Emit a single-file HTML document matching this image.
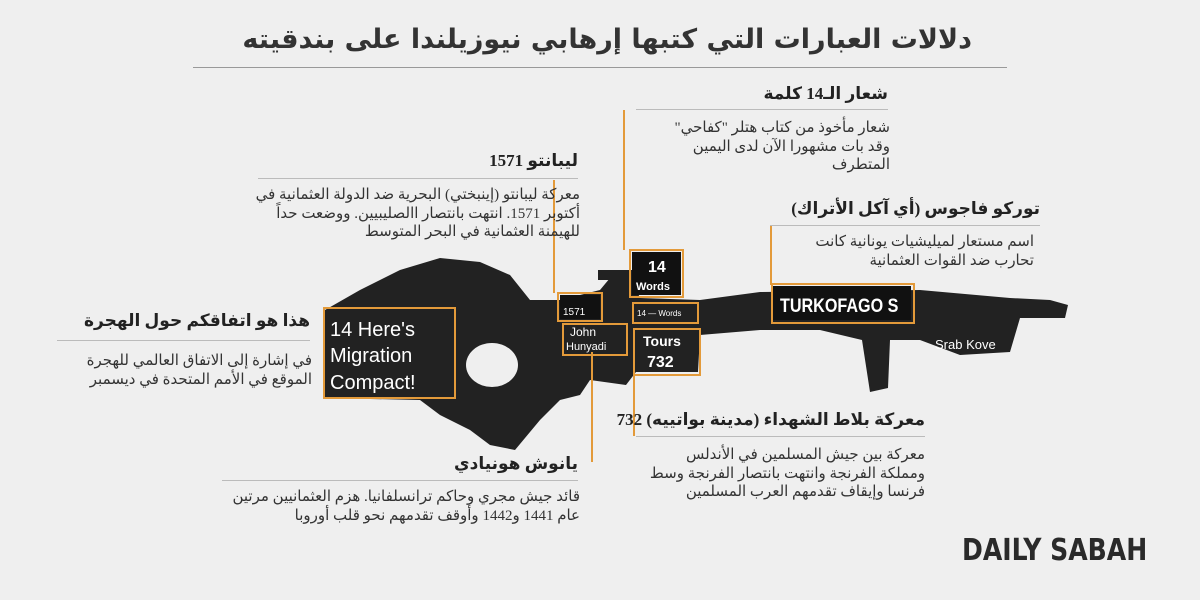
<!DOCTYPE html>
<html><head><meta charset="utf-8"><style>
body{margin:0;width:1200px;height:600px;background:#efefef;position:relative;overflow:hidden;font-family:"Liberation Serif","Noto Serif CJK SC","DejaVu Sans",serif;color:#333}
.t{position:absolute;direction:rtl;text-align:right;white-space:nowrap}
.h{font-weight:bold;font-size:17px;color:#222}
.b{font-size:15px;line-height:18.5px;color:#333}
.ln{position:absolute;height:1px;background:#bbb}
.ov{position:absolute;width:2px;background:#e39a3a}
.bx{position:absolute;border:2px solid #e39a3a}
</style></head><body>
<div class="t" style="left:200px;width:772px;top:24px;font-size:27px;font-weight:bold;font-family:'DejaVu Sans',sans-serif;color:#333">دلالات العبارات التي كتبها إرهابي نيوزيلندا على بندقيته</div>
<div class="ln" style="left:193px;width:814px;top:67px;background:#999"></div>

<svg style="position:absolute;left:0;top:0" width="1200" height="600">
<g fill="#222">
<path d="M325 310 L360 290 L400 270 L440 258 L480 262 L510 275 L530 300 L560 300 L600 290 L610 278 L630 275 L640 298 L700 300 L760 292 L920 290 L1010 298 L1050 300 L1068 305 L1065 318 L1020 318 L1015 335 L1010 352 L960 355 L920 340 L890 340 L888 388 L870 392 L862 340 L820 330 L760 330 L700 335 L698 372 L636 372 L626 385 L590 380 L580 395 L560 400 L540 420 L515 450 L490 445 L470 430 L440 415 L420 400 L325 398 Z"/>
<rect x="598" y="270" width="34" height="10"/>
</g>
<ellipse cx="492" cy="365" rx="26" ry="22" fill="#efefef"/>
<rect x="560" y="295" width="40" height="24" fill="#111"/>
<rect x="632" y="252" width="49" height="43" fill="#111"/>
<rect x="773" y="286" width="138" height="34" fill="#111"/>
<g fill="#fff" font-family="Liberation Sans,sans-serif">
<text x="330" y="336" font-size="20">14 Here's</text>
<text x="330" y="362" font-size="20">Migration</text>
<text x="330" y="389" font-size="20">Compact!</text>
<text x="648" y="272" font-size="16" font-weight="bold">14</text>
<text x="636" y="290" font-size="11" font-weight="bold">Words</text>
<text x="563" y="315" font-size="10">1571</text>
<text x="570" y="336" font-size="12">John</text>
<text x="566" y="350" font-size="11">Hunyadi</text>
<text x="643" y="346" font-size="14" font-weight="bold">Tours</text>
<text x="647" y="367" font-size="16" font-weight="bold">732</text>
<text x="637" y="316" font-size="8">14 — Words</text>
<text x="780" y="312" font-size="19" font-weight="bold" font-family="Liberation Sans Narrow,Liberation Sans,sans-serif" transform="translate(780 0) scale(0.85 1) translate(-780 0)">TURKOFAGO S</text>
<text x="935" y="349" font-size="13">Srab Kove</text>
</g>
</svg>

<div class="bx" style="left:323px;top:307px;width:129px;height:88px"></div>
<div class="bx" style="left:557px;top:292px;width:42px;height:26px"></div>
<div class="bx" style="left:629px;top:249px;width:51px;height:45px"></div>
<div class="bx" style="left:632px;top:302px;width:63px;height:18px"></div>
<div class="bx" style="left:562px;top:323px;width:62px;height:29px"></div>
<div class="bx" style="left:633px;top:328px;width:64px;height:44px"></div>
<div class="bx" style="left:771px;top:283px;width:140px;height:37px"></div>

<div class="ov" style="left:623px;top:110px;height:140px"></div>
<div class="ov" style="left:553px;top:180px;height:113px"></div>
<div class="ov" style="left:770px;top:225px;height:60px"></div>
<div class="ov" style="left:633px;top:372px;height:64px"></div>
<div class="ov" style="left:591px;top:352px;height:110px"></div>

<div class="t h" style="right:312px;top:84px">شعار الـ14 كلمة</div>
<div class="ln" style="left:636px;width:252px;top:109px"></div>
<div class="t b" style="right:310px;top:119px">شعار مأخوذ من كتاب هتلر "كفاحي"<br>وقد بات مشهورا الآن لدى اليمين<br>المتطرف</div>

<div class="t h" style="right:622px;top:151px">ليبانتو 1571</div>
<div class="ln" style="left:258px;width:320px;top:178px"></div>
<div class="t b" style="right:620px;top:186px">معركة ليبانتو (إينبختي) البحرية ضد الدولة العثمانية في<br>أكتوبر 1571. انتهت بانتصار االصليبيين. ووضعت حداً<br>للهيمنة العثمانية في البحر المتوسط</div>

<div class="t h" style="right:160px;top:199px">توركو فاجوس (أي آكل الأتراك)</div>
<div class="ln" style="left:770px;width:270px;top:225px"></div>
<div class="t b" style="right:166px;top:233px">اسم مستعار لميليشيات يونانية كانت<br>تحارب ضد القوات العثمانية</div>

<div class="t h" style="right:890px;top:311px">هذا هو اتفاقكم حول الهجرة</div>
<div class="ln" style="left:57px;width:253px;top:340px"></div>
<div class="t b" style="right:888px;top:352px">في إشارة إلى الاتفاق العالمي للهجرة<br>الموقع في الأمم المتحدة في ديسمبر</div>

<div class="t h" style="right:275px;top:410px">معركة بلاط الشهداء (مدينة بواتييه) 732</div>
<div class="ln" style="left:636px;width:289px;top:436px"></div>
<div class="t b" style="right:275px;top:446px">معركة بين جيش المسلمين في الأندلس<br>ومملكة الفرنجة وانتهت بانتصار الفرنجة وسط<br>فرنسا وإيقاف تقدمهم العرب المسلمين</div>

<div class="t h" style="right:622px;top:454px">يانوش هونيادي</div>
<div class="ln" style="left:222px;width:356px;top:480px"></div>
<div class="t b" style="right:620px;top:488px">قائد جيش مجري وحاكم ترانسلفانيا. هزم العثمانيين مرتين<br>عام 1441 و1442 وأوقف تقدمهم نحو قلب أوروبا</div>

<div style="position:absolute;left:962px;top:533px;font-family:'DejaVu Sans Condensed','Liberation Sans Narrow',sans-serif;font-weight:bold;font-size:30px;color:#2a2a2a;transform:scaleX(0.93);transform-origin:left">DAILY SABAH</div>
</body></html>
